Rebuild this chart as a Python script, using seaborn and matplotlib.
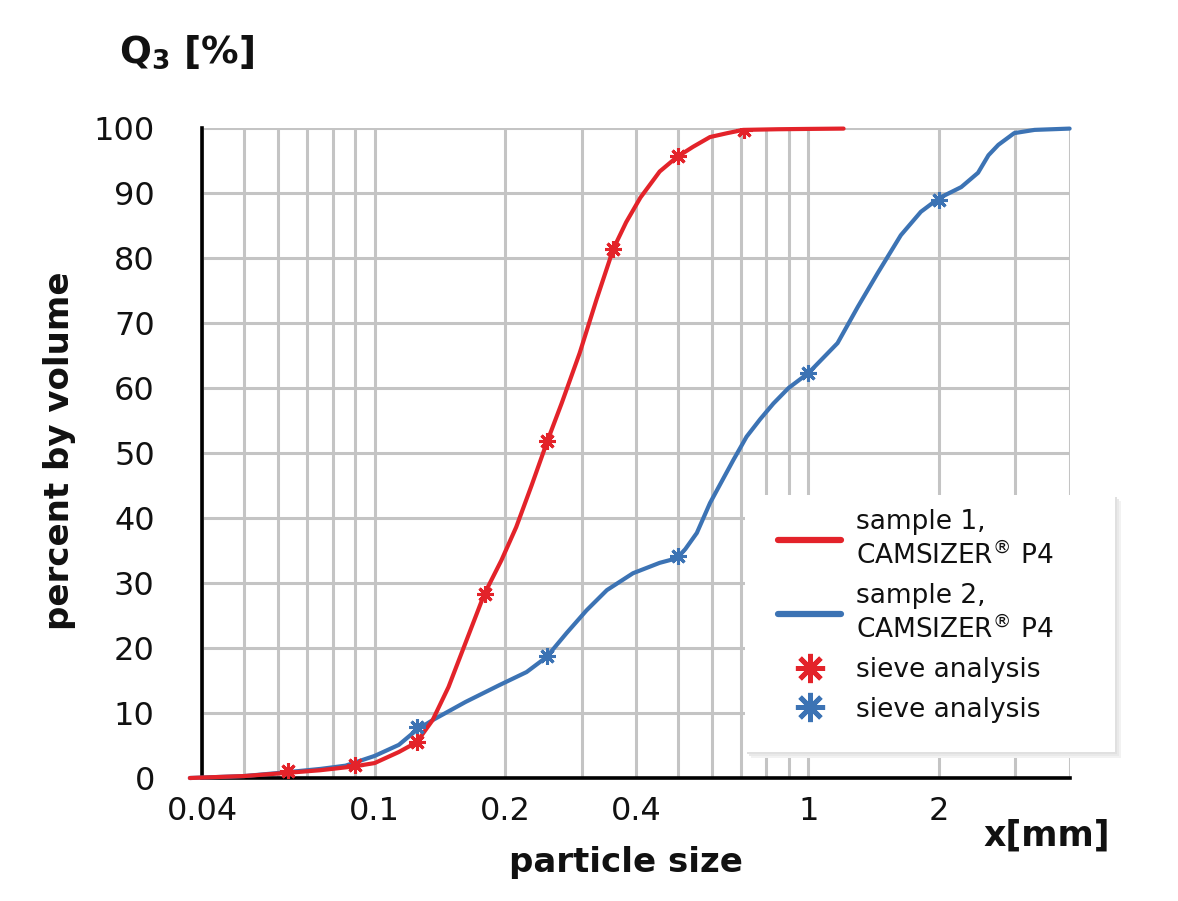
import matplotlib
matplotlib.use("Agg")
import matplotlib.pyplot as plt
import seaborn as sns
import pandas as pd
from matplotlib.lines import Line2D
from matplotlib.patches import Rectangle

# ---- data ----
s1_x = [0.0375, 0.05, 0.063, 0.075, 0.09, 0.1, 0.1137, 0.125, 0.136, 0.148, 0.162,
        0.179, 0.196, 0.212, 0.23, 0.25, 0.27, 0.297, 0.325, 0.355, 0.38, 0.41,
        0.454, 0.497, 0.542, 0.593, 0.65, 0.707, 0.85, 1.0, 1.205]
s1_y = [0.0, 0.3, 0.8, 1.2, 1.8, 2.3, 4.0, 5.5, 8.9, 14.0, 20.8,
        28.3, 33.5, 38.6, 45.0, 51.8, 57.7, 65.4, 73.7, 81.4, 85.5, 89.3,
        93.3, 95.5, 97.1, 98.6, 99.2, 99.7, 99.8, 99.85, 99.9]

s2_x = [0.0375, 0.05, 0.063, 0.075, 0.0857, 0.1, 0.1137, 0.125, 0.136, 0.162, 0.194,
        0.224, 0.249, 0.277, 0.308, 0.343, 0.394, 0.454, 0.497, 0.52, 0.553, 0.593,
        0.671, 0.72, 0.774, 0.83, 0.9, 1.0, 1.167, 1.30, 1.445, 1.633, 1.816, 2.0,
        2.25, 2.46, 2.6, 2.74, 2.98, 3.32, 4.0]
s2_y = [0.0, 0.3, 0.9, 1.4, 1.9, 3.4, 5.1, 7.4, 8.9, 11.7, 14.3,
        16.3, 18.6, 22.3, 25.8, 28.9, 31.5, 33.1, 33.8, 35.2, 37.7, 42.3,
        48.9, 52.5, 55.2, 57.6, 60.0, 62.3, 66.9, 72.5, 77.7, 83.5, 87.1, 89.2,
        90.9, 93.1, 95.8, 97.4, 99.2, 99.7, 99.9]

sieve1_x = [0.063, 0.09, 0.125, 0.18, 0.25, 0.355, 0.5, 0.71]
sieve1_y = [1.1, 2.0, 5.5, 28.3, 51.8, 81.4, 95.7, 99.7]

sieve2_x = [0.125, 0.25, 0.5, 1.0, 2.0]
sieve2_y = [7.8, 18.8, 34.2, 62.3, 88.9]

major_ticks = [0.04, 0.1, 0.2, 0.4, 1, 2]
major_labels = ["0.04", "0.1", "0.2", "0.4", "1", "2"]
minor_ticks = [0.05, 0.06, 0.07, 0.08, 0.09, 0.3, 0.5, 0.6, 0.7, 0.8, 0.9, 3, 4]
y_ticks = list(range(0, 101, 10))

labels = ["sample 1,\nCAMSIZER$^{\\circledR}$ P4", "sample 2,\nCAMSIZER$^{\\circledR}$ P4",
          "sieve analysis", "sieve analysis"]

RED = "#e3232a"
BLUE = "#3c73b4"
STAR = (8, 2, 0)
TXT = "#111111"

sns.set_theme(style="white")
plt.rcParams['font.family'] = ['DejaVu Sans']

W, H = 1178, 901
fig = plt.figure(figsize=(W / 100, H / 100), dpi=100)
ax = fig.add_axes([0.1715, 0.1365, 0.7365, 0.7215])

df1 = pd.DataFrame({"x": s1_x, "y": s1_y})
df2 = pd.DataFrame({"x": s2_x, "y": s2_y})
sns.lineplot(data=df1, x="x", y="y", ax=ax, color=RED, linewidth=3, clip_on=False,
             zorder=4, sort=False, solid_joinstyle="round")
sns.lineplot(data=df2, x="x", y="y", ax=ax, color=BLUE, linewidth=3, clip_on=False,
             zorder=3, sort=False, solid_joinstyle="round")
sns.lineplot(x=sieve2_x, y=sieve2_y, ax=ax, linestyle="", marker=STAR, markersize=12,
             markeredgewidth=2.2, color=BLUE, markeredgecolor=BLUE, zorder=5, sort=False)
sns.lineplot(x=sieve1_x, y=sieve1_y, ax=ax, linestyle="", marker=STAR, markersize=12,
             markeredgewidth=2.2, color=RED, markeredgecolor=RED, zorder=6, sort=False)

ax.set_xscale("log")
ax.set_xlim(0.04, 4)
ax.set_ylim(0, 100)
ax.set_xticks(major_ticks)
ax.set_xticklabels(major_labels)
ax.set_xticks(minor_ticks, minor=True)
ax.set_xticklabels([], minor=True)
ax.set_yticks(y_ticks)
ax.grid(True, which="both", axis="x", color="#c4c4c4", linewidth=2.2)
ax.grid(True, which="major", axis="y", color="#c4c4c4", linewidth=2.2)
ax.set_axisbelow(True)
ax.tick_params(axis="both", which="both", length=0)
ax.tick_params(axis="y", labelsize=23, pad=34, labelcolor=TXT)
ax.tick_params(axis="x", labelsize=23, pad=13, labelcolor=TXT)

for s in ["top", "right"]:
    ax.spines[s].set_visible(False)
for s in ["left", "bottom"]:
    ax.spines[s].set_color("black")
    ax.spines[s].set_linewidth(2.6)
    ax.spines[s].set_zorder(2)

ax.set_xlabel("")
ax.set_ylabel("")
fig.text(0.0505, 0.5, "percent by volume", rotation=90, ha="center", va="center",
         fontsize=24.5, fontweight="bold", color=TXT)
fig.text(0.531, 0.043, "particle size", ha="center", va="center",
         fontsize=24.5, fontweight="bold", color=TXT)
fig.text(0.889, 0.073, "x[mm]", ha="center", va="center",
         fontsize=25, fontweight="bold", color=TXT)
fig.text(0.158, 0.942, r"$\mathbf{Q_3}$ [%]", ha="center", va="center",
         fontsize=27, fontweight="bold", color=TXT)

# legend box with soft shadow (pixel geometry of the reference box)
bx0, by0, bx1, by1 = 745, 495, 1115, 752
for off, col in [(6, "#f2f2f2"), (4, "#e9e9e9"), (2, "#e0e0e0")]:
    fig.patches.append(Rectangle(((bx0 + off) / W, (H - by1 - off) / H),
                                 (bx1 - bx0) / W, (by1 - by0) / H,
                                 transform=fig.transFigure, facecolor=col,
                                 edgecolor="none", zorder=8))
fig.patches.append(Rectangle((bx0 / W, (H - by1) / H), (bx1 - bx0) / W, (by1 - by0) / H,
                             transform=fig.transFigure, facecolor="white",
                             edgecolor="none", zorder=9))

handles = [
    Line2D([0], [0], color=RED, linewidth=4.5),
    Line2D([0], [0], color=BLUE, linewidth=4.5),
    Line2D([0], [0], color=RED, linestyle="", marker=STAR, markersize=21, markeredgewidth=3.5),
    Line2D([0], [0], color=BLUE, linestyle="", marker=STAR, markersize=21, markeredgewidth=3.5),
]
leg = fig.legend(handles, labels, loc="upper left", bbox_to_anchor=(778 / W, (H - 509) / H),
                 bbox_transform=fig.transFigure, frameon=False,
                 fontsize=19, handlelength=2.4, handletextpad=0.55, labelspacing=0.5,
                 borderpad=0, borderaxespad=0)
leg.set_zorder(10)
for t in leg.get_texts():
    t.set_color(TXT)
    t.set_linespacing(1.33)

fig.savefig("out.png", dpi=100)
